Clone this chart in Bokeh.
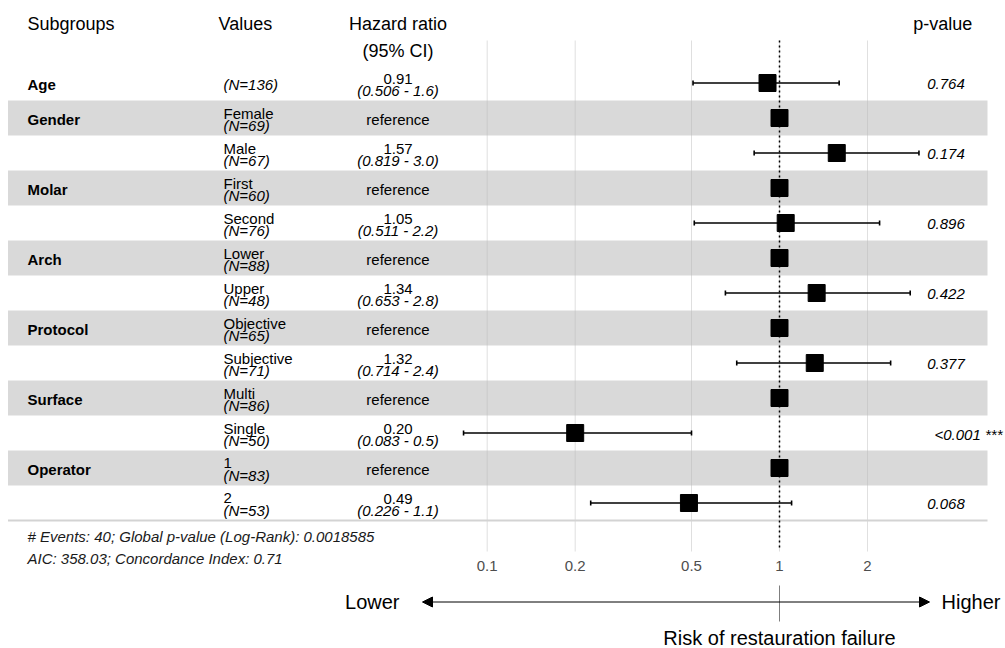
from bokeh.plotting import figure
from bokeh.models import Range1d, ColumnDataSource, Arrow, NormalHead
from bokeh.core.properties import value
from bokeh.embed import file_html
from bokeh.resources import INLINE

# ---------------- data ----------------
groups = ["Age", "Gender", "", "Molar", "", "Arch", "", "Protocol", "", "Surface", "", "Operator", ""]
levels = ["", "Female", "Male", "First", "Second", "Lower", "Upper", "Objective", "Subjective",
          "Multi", "Single", "1", "2"]
counts = [136, 69, 67, 60, 76, 88, 48, 65, 71, 86, 50, 83, 53]
hazard = [0.91, 1.0, 1.57, 1.0, 1.05, 1.0, 1.34, 1.0, 1.32, 1.0, 0.20, 1.0, 0.49]
ci_low = [0.506, None, 0.819, None, 0.511, None, 0.653, None, 0.714, None, 0.083, None, 0.226]
ci_high = [1.6, None, 3.0, None, 2.2, None, 2.8, None, 2.4, None, 0.5, None, 1.1]
p_values = ["0.764", "", "0.174", "", "0.896", "", "0.422", "", "0.377", "", "<0.001 ***", "", "0.068"]
ticks = [0.1, 0.2, 0.5, 1, 2]
tick_labels = ["0.1", "0.2", "0.5", "1", "2"]
footer = ["# Events: 40; Global p-value (Log-Rank): 0.0018585",
          "AIC: 358.03; Concordance Index: 0.71"]
headers = ["Subgroups", "Values", "Hazard ratio", "(95% CI)", "p-value"]
axis_words = ["Lower", "Higher", "Risk of restauration failure"]

# ---------------- layout ----------------
FONT = value("Liberation Sans")
W, H = 1005, 648
X_REF, X_DEC = 779.0, 292.3      # canvas px of HR=1, px per decade
Y_ROW1, Y_STEP = 82.5, 35.0      # canvas px of row 1, px per row

def X(px):  # layout anchor: canvas px -> hazard-ratio axis value
    return 10 ** ((px - X_REF) / X_DEC)

def Y(py):  # layout anchor: canvas px -> row units
    return 1 + (py - Y_ROW1) / Y_STEP

PX = 1 / Y_STEP
COL_GROUP = X(27)
COL_VALUES_HEAD = X(218)
COL_VALUES = X(223)
COL_HR = X(397.5)
COL_P = X(919.4)
COL_P_HEAD = X(971.7)
LEFT, BAND_RIGHT = X(7.5), X(987)

rows = list(range(1, len(levels) + 1))

p = figure(width=W, height=H, x_axis_type="log",
           x_range=Range1d(X(0), X(W)), y_range=Range1d(Y(H), Y(0)),
           output_backend="svg", toolbar_location=None,
           x_axis_location=None, y_axis_location=None,
           min_border=0, outline_line_color=None,
           background_fill_color="white", border_fill_color="white")
p.xgrid.visible = False
p.ygrid.visible = False

# shaded bands
band_rows = [r for r in rows if r % 2 == 0]
p.quad(left=[LEFT] * len(band_rows), right=[BAND_RIGHT] * len(band_rows),
       top=[r - 0.5 for r in band_rows], bottom=[r + 0.5 for r in band_rows],
       fill_color="#d9d9d9", line_color=None)

# vertical grid lines
p.segment(x0=ticks, x1=ticks, y0=[Y(40)] * len(ticks), y1=[Y(551)] * len(ticks),
          line_color="#b8b8b8", line_alpha=0.45, line_width=1)

# bottom rule
p.segment(x0=[LEFT], x1=[BAND_RIGHT], y0=[13.5], y1=[13.5], line_color="#d3d3d3", line_width=2)

# reference dotted line
p.segment(x0=[1], x1=[1], y0=[Y(40)], y1=[Y(548)], line_color="black",
          line_width=1.5, line_dash="2 3")

# CI bars
ci_idx = [i for i in range(len(rows)) if ci_low[i] is not None]
ci_src = ColumnDataSource(dict(
    lo=[ci_low[i] for i in ci_idx], hi=[ci_high[i] for i in ci_idx],
    y=[rows[i] for i in ci_idx],
    ya=[rows[i] - 2.5 * PX for i in ci_idx], yb=[rows[i] + 2.5 * PX for i in ci_idx]))
p.segment(x0="lo", x1="hi", y0="y", y1="y", source=ci_src, line_color="black", line_width=1.6)
p.segment(x0="lo", x1="lo", y0="ya", y1="yb", source=ci_src, line_color="black", line_width=1.6)
p.segment(x0="hi", x1="hi", y0="ya", y1="yb", source=ci_src, line_color="black", line_width=1.6)

# point estimates
p.scatter(x=hazard, y=rows, marker="square", size=17, fill_color="black", line_color="black")

def txt(xs, ys, texts, size="15px", align="left", style="normal", color="black", xoff=None):
    src = ColumnDataSource(dict(x=xs, y=ys, t=texts,
                                xo=xoff if xoff is not None else [0] * len(xs)))
    p.text(x="x", y="y", text="t", x_offset="xo", source=src, text_font=FONT,
           text_font_size=size, text_align=align, text_baseline="middle",
           text_font_style=style, text_color=color)

# headers
txt([COL_GROUP], [Y(23)], [headers[0]], size="18px")
txt([COL_VALUES_HEAD], [Y(23)], [headers[1]], size="18px")
txt([COL_HR], [Y(23)], [headers[2]], size="18px", align="center")
txt([COL_HR], [Y(50.5)], [headers[3]], size="18px", align="center")
txt([COL_P_HEAD], [Y(23)], [headers[4]], size="18px", align="right")

# group names
g_idx = [i for i in range(len(rows)) if groups[i]]
txt([COL_GROUP] * len(g_idx), [rows[i] + 1 * PX for i in g_idx], [groups[i] for i in g_idx], style="bold")

# values column
lv = [i for i in range(len(rows)) if levels[i]]
txt([COL_VALUES] * len(lv), [rows[i] - 5 * PX for i in lv], [levels[i] for i in lv])
txt([COL_VALUES] * len(lv), [rows[i] + 7 * PX for i in lv], ["(N=%d)" % counts[i] for i in lv], style="italic")
nl = [i for i in range(len(rows)) if not levels[i]]
txt([COL_VALUES] * len(nl), [rows[i] + 1 * PX for i in nl], ["(N=%d)" % counts[i] for i in nl], style="italic")

# hazard ratio column
txt([COL_HR] * len(ci_idx), [rows[i] - 4.5 * PX for i in ci_idx], ["%.2f" % hazard[i] for i in ci_idx], align="center")
txt([COL_HR] * len(ci_idx), [rows[i] + 7 * PX for i in ci_idx],
    ["(%.3f - %.1f)" % (ci_low[i], ci_high[i]) for i in ci_idx], align="center", style="italic")
ref_idx = [i for i in range(len(rows)) if ci_low[i] is None]
txt([COL_HR] * len(ref_idx), [rows[i] + 1 * PX for i in ref_idx], ["reference"] * len(ref_idx), align="center")

# p-values (left edge pushed right by 20% of the label width, like hjust=-0.2)
pv = [i for i in range(len(rows)) if p_values[i]]
txt([COL_P] * len(pv), [rows[i] + 1 * PX for i in pv], [p_values[i] for i in pv], style="italic",
    xoff=[0.2 * 7.3 * len(p_values[i]) for i in pv])

# footer
txt([COL_GROUP, COL_GROUP], [Y(535.5), Y(557.5)], footer, style="italic", color="#1a1a1a")

# tick labels
txt(ticks, [Y(565)] * len(ticks), tick_labels, align="center", color="#4d4d4d")

# bottom arrow + labels
p.add_layout(Arrow(x_start=X(422), y_start=Y(601.5), x_end=X(929), y_end=Y(601.5),
                   start=NormalHead(size=10, fill_color="black", line_color="black"),
                   end=NormalHead(size=10, fill_color="black", line_color="black"),
                   line_color="black", line_width=1))
p.segment(x0=[1], x1=[1], y0=[Y(585)], y1=[Y(621)], line_color="#7f7f7f", line_width=1)
txt([X(399)], [Y(601)], [axis_words[0]], size="20px", align="right")
txt([X(941)], [Y(601)], [axis_words[1]], size="20px")
txt([1], [Y(637)], [axis_words[2]], size="20px", align="center")

open("out.html", "w").write(file_html(p, INLINE))
